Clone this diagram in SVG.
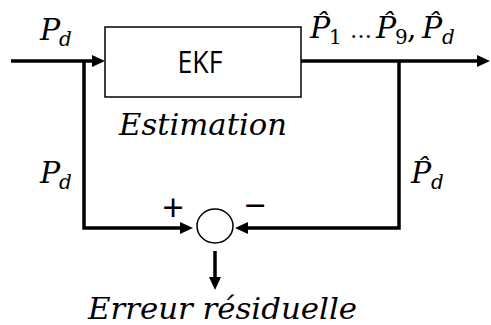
<svg xmlns="http://www.w3.org/2000/svg" width="491" height="325" viewBox="0 0 491 325">
  <style>
    .wire { fill: none; stroke: #000; stroke-width: 3.5; stroke-linejoin: miter; }
    .thin { fill: #fff; stroke: #000; stroke-width: 1.5; }
    .math { font-family: "DejaVu Serif", "Liberation Serif", serif; font-style: italic; fill: #000; }
    .num { font-family: "DejaVu Serif", "Liberation Serif", serif; font-style: normal; fill: #000; }
    .sans { font-family: "Open Sans", "Noto Sans", "Liberation Sans", sans-serif; fill: #000; }
  </style>
  <defs>
    <marker id="arr" markerUnits="userSpaceOnUse" markerWidth="14" markerHeight="13" refX="7" refY="6" orient="auto">
      <path d="M0,0 L13,6 L0,12 z" fill="#000"/>
    </marker>
  </defs>
  <rect width="491" height="325" fill="#fff"/>

  <g id="connectors">
    <line class="wire" x1="11" y1="61" x2="99" y2="61" marker-end="url(#arr)"/>
    <line class="wire" x1="301" y1="61" x2="484" y2="61" marker-end="url(#arr)"/>
    <polyline class="wire" points="84,61 84,228 187,228" marker-end="url(#arr)"/>
    <polyline class="wire" points="399,61 399,228 241,228" marker-end="url(#arr)"/>
    <line class="wire" x1="215" y1="251" x2="215" y2="284" marker-end="url(#arr)"/>
  </g>

  <g id="ekf">
    <rect class="thin" x="105" y="27" width="196" height="70"/>
    <text class="sans" x="200" y="73" font-size="31" text-anchor="middle" textLength="45" lengthAdjust="spacingAndGlyphs">EKF</text>
    <text class="math" x="119" y="135" font-size="29" textLength="168" lengthAdjust="spacingAndGlyphs">Estimation</text>
  </g>

  <g id="sum">
    <ellipse class="thin" cx="215" cy="226" rx="18" ry="17"/>
    <text class="sans" x="173" y="221" font-size="38" text-anchor="middle">+</text>
    <text class="sans" x="255" y="219" font-size="38" text-anchor="middle">−</text>
  </g>

  <g id="labels">
    <text class="math" x="40" y="40" font-size="30">P</text>
    <text class="math" x="59" y="46" font-size="20">d</text>

    <text class="math" x="40" y="183" font-size="30">P</text>
    <text class="math" x="59" y="189" font-size="20">d</text>

    <text class="math" x="411" y="183" font-size="30">P̂</text>
    <text class="math" x="431" y="189" font-size="20">d</text>

    <text class="math" x="310" y="38" font-size="30">P̂</text>
    <text class="num" x="329" y="44" font-size="20">1</text>
    <text class="num" x="350" y="38" font-size="22">…</text>
    <text class="math" x="376" y="38" font-size="30">P̂</text>
    <text class="num" x="395" y="44" font-size="20">9</text>
    <text class="num" x="407" y="38" font-size="30">,</text>
    <text class="math" x="422" y="38" font-size="30">P̂</text>
    <text class="math" x="442" y="44" font-size="20">d</text>
  </g>

  <g id="result">
    <text class="math" x="88" y="319" font-size="30" textLength="269" lengthAdjust="spacingAndGlyphs">Erreur résiduelle</text>
  </g>
</svg>
